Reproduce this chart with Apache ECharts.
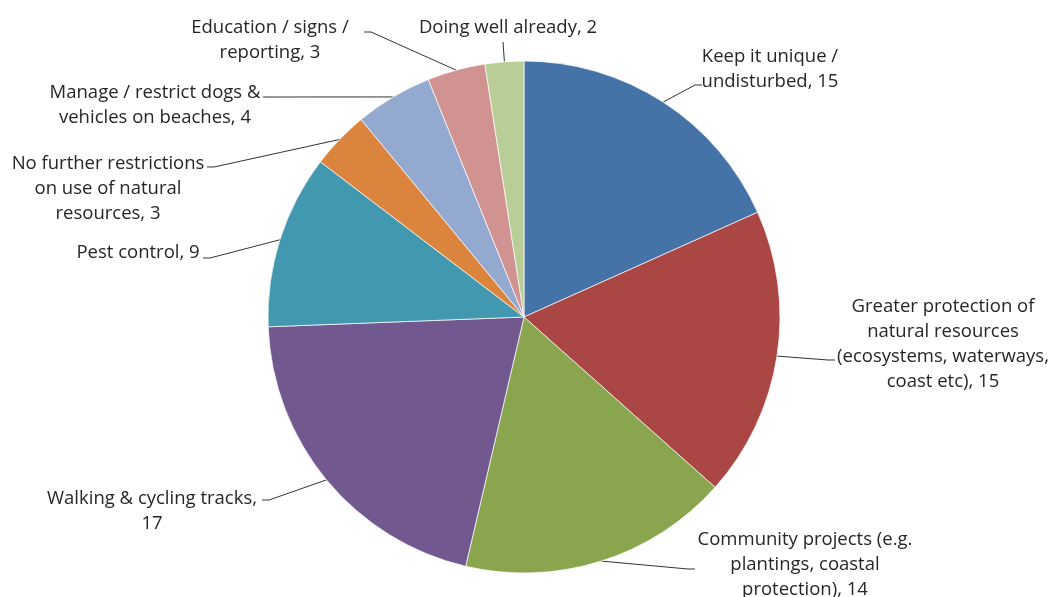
<!DOCTYPE html>
<html>
<head>
<meta charset="utf-8">
<script src="https://cdn.jsdelivr.net/npm/echarts@6/dist/echarts.min.js"></script>
<style>
html, body { margin: 0; padding: 0; background: #fff; }
#chart { width: 1053px; height: 597px; }
</style>
</head>
<body>
<div id="chart"></div>
<script>
// ---- data ----
const categories = [
  'Keep it unique /\nundisturbed',
  'Greater protection of\nnatural resources\n(ecosystems, waterways,\ncoast etc)',
  'Community projects (e.g.\nplantings, coastal\nprotection)',
  'Walking & cycling tracks',
  'Pest control',
  'No further restrictions\non use of natural\nresources',
  'Manage / restrict dogs &\nvehicles on beaches',
  'Education / signs /\nreporting',
  'Doing well already'
];
const values = [15, 15, 14, 17, 9, 3, 4, 3, 2];
const valueSeparators = [', ', ', ', ', ', ',\n', ', ', ', ', ', ', ', ', ', '];

// ---- styling / layout ----
const colors = ['#4572A7', '#AA4643', '#89A54E', '#71588F', '#4198AF', '#DB843D', '#93A9CF', '#D19392', '#B9CD96'];
// label anchor: [centerX, topY]
const labelAnchor = [
  [770, 44], [943, 294], [805, 527], [152, 486], [138, 240],
  [108, 151], [155, 80], [270, 15], [508, 15]
];
// where the leader line meets the label
const lineEnd = [
  [702, 85], [835, 360], [695, 569], [262, 500], [203, 258],
  [207, 167], [263, 97], [364, 32], [503, 42]
];

const chart = echarts.init(document.getElementById('chart'), null, { renderer: 'canvas' });
chart.setOption({
  animation: false,
  color: colors,
  series: [{
    type: 'pie',
    center: [524, 317],
    radius: [0, 256],
    startAngle: 90,
    clockwise: true,
    avoidLabelOverlap: false,
    itemStyle: { borderColor: '#ffffff', borderWidth: 0.7 },
    label: {
      show: true,
      position: 'outside',
      fontFamily: 'Open Sans',
      fontSize: 18.5,
      lineHeight: 25,
      color: '#262626',
      align: 'center',
      formatter: p => p.name + valueSeparators[p.dataIndex] + p.value
    },
    labelLine: { show: true, lineStyle: { color: '#333333', width: 1 } },
    labelLayout: function (params) {
      const i = params.dataIndex;
      const a = labelAnchor[i];
      const e = lineEnd[i];
      const p0 = params.labelLinePoints ? params.labelLinePoints[0] : e;
      let p1;
      if (Math.abs(p0[0] - e[0]) < 20) {
        p1 = [e[0], e[1]];
      } else if (p0[0] > e[0]) {
        p1 = [e[0] + 7, e[1]];
      } else {
        p1 = [e[0] - 7, e[1]];
      }
      return {
        x: a[0],
        y: a[1],
        align: 'center',
        verticalAlign: 'top',
        labelLinePoints: [p0, p1, e]
      };
    },
    emphasis: { disabled: true },
    data: categories.map((c, i) => ({ name: c, value: values[i] }))
  }]
});
</script>
</body>
</html>
